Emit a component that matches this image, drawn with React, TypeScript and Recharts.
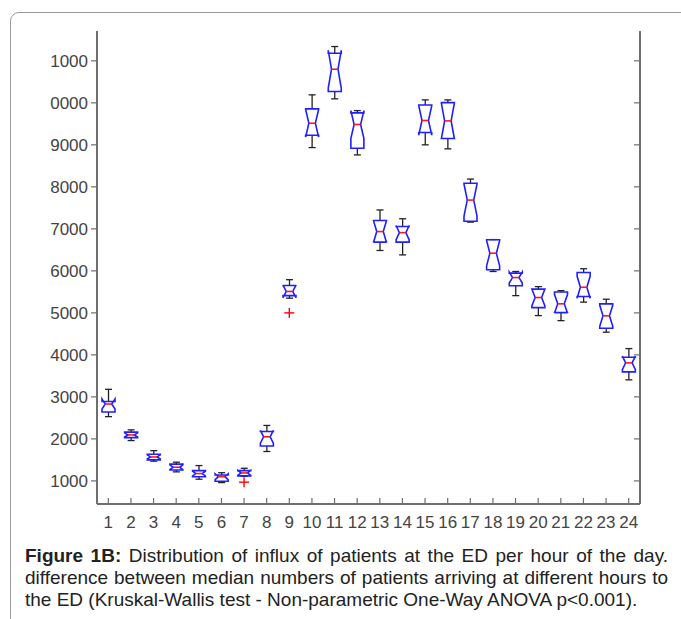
import React from 'react'
import { Bar, ComposedChart, Scatter, XAxis, YAxis } from 'recharts'

// Hour of the day (categories on the x axis)
const hours = [1, 2, 3, 4, 5, 6, 7, 8, 9, 10, 11, 12, 13, 14, 15, 16, 17, 18, 19, 20, 21, 22, 23, 24]

// Box plot statistics per hour
const whiskerLow = [2530, 1960, 1470, 1215, 1040, 960, 1110, 1700, 5350, 8935, 10095, 8760, 6485, 6380, 9000, 8905, 7160, 5985, 5410, 4935, 4815, 5255, 4540, 3405]
const lowerQuartile = [2640, 2030, 1500, 1260, 1100, 990, 1120, 1830, 5410, 9230, 10270, 8920, 6685, 6685, 9295, 9150, 7180, 6025, 5645, 5125, 5005, 5390, 4635, 3595]
const medians = [2830, 2095, 1570, 1325, 1175, 1100, 1190, 2050, 5510, 9515, 10800, 9485, 6935, 6910, 9580, 9570, 7685, 6420, 5840, 5365, 5215, 5610, 4930, 3810]
const upperQuartile = [2890, 2160, 1635, 1400, 1245, 1140, 1245, 2175, 5650, 9855, 11180, 9760, 7200, 7055, 9950, 10005, 8085, 6740, 5945, 5565, 5495, 5960, 5215, 3945]
const whiskerHigh = [3180, 2215, 1720, 1445, 1365, 1195, 1300, 2320, 5790, 10190, 11340, 9815, 7450, 7240, 10070, 10070, 8185, 6745, 5985, 5625, 5530, 6050, 5325, 4150]
// half height of the median notch (comparison interval)
const notchHalf = [120, 50, 50, 55, 60, 70, 60, 150, 150, 330, 450, 330, 260, 170, 350, 420, 380, 300, 130, 200, 220, 260, 250, 160]
const outliers: (number | null)[] = [null, null, null, null, null, null, 970, null, 5000, null, null, null, null, null, null, null, null, null, null, null, null, null, null, null]

const yTicks = [1000, 2000, 3000, 4000, 5000, 6000, 7000, 8000, 9000, 10000, 11000]
const yTickLabels = ['1000', '2000', '3000', '4000', '5000', '6000', '7000', '8000', '9000', '0000', '1000']

const data = hours.map((h, i) => ({
  hour: h,
  range: [whiskerLow[i], whiskerHigh[i]],
  q1: lowerQuartile[i],
  median: medians[i],
  q3: upperQuartile[i],
  notch: notchHalf[i],
  outlier: outliers[i],
}))

const FONT = '"Liberation Sans", Arial, sans-serif'
const AXIS = '#6e6e6e'

// notched box, MATLAB style, positioned from the whisker range bar
const NotchedBox = (props: any) => {
  const { x, y, width, height, payload } = props
  const top = Math.min(y, y + height)
  const bottom = Math.max(y, y + height)
  const [lo, hi] = payload.range
  const py = (v: number) => bottom - ((v - lo) / (hi - lo)) * (bottom - top)
  const cx = x + width / 2
  const hw = width / 2
  const xL = cx - hw
  const xR = cx + hw
  const nL = cx - hw / 2
  const nR = cx + hw / 2
  const yQ1 = py(payload.q1)
  const yQ3 = py(payload.q3)
  const yMed = py(payload.median)
  const yNlo = py(payload.median - payload.notch)
  const yNhi = py(payload.median + payload.notch)
  const pts = [
    [xL, yQ1], [xL, yNlo], [nL, yMed], [xL, yNhi], [xL, yQ3],
    [xR, yQ3], [xR, yNhi], [nR, yMed], [xR, yNlo], [xR, yQ1],
  ]
  return (
    <g>
      <line x1={cx} x2={cx} y1={top} y2={yQ3} stroke='#222' strokeWidth={1.3} />
      <line x1={cx} x2={cx} y1={yQ1} y2={bottom} stroke='#222' strokeWidth={1.3} />
      <line x1={cx - 3.5} x2={cx + 3.5} y1={top} y2={top} stroke='#222' strokeWidth={1.3} />
      <line x1={cx - 3.5} x2={cx + 3.5} y1={bottom} y2={bottom} stroke='#222' strokeWidth={1.3} />
      <polygon points={pts.map((p) => p.join(',')).join(' ')} fill='none' stroke='#1f1fff' strokeWidth={1.6} />
      <line x1={nL} x2={nR} y1={yMed} y2={yMed} stroke='#ff1a1a' strokeWidth={1.6} />
    </g>
  )
}

const Plus = (props: any) => {
  const { cx, cy } = props
  if (cx == null || cy == null) return null
  return (
    <g stroke='#ff0000' strokeWidth={1.4}>
      <line x1={cx - 5} x2={cx + 5} y1={cy} y2={cy} />
      <line x1={cx} x2={cx} y1={cy - 5} y2={cy + 5} />
    </g>
  )
}

const BottomTick = (props: any) => {
  const { x, y, payload } = props
  return (
    <g>
      <line x1={x} x2={x} y1={y - 6} y2={y} stroke={AXIS} strokeWidth={1.2} />
      <text x={x} y={y + 24} textAnchor='middle' fill='#444' fontSize={17} fontFamily={FONT}>
        {payload.value}
      </text>
    </g>
  )
}

const TopTick = (props: any) => {
  const { x, y } = props
  return <rect x={x - 0.75} y={y - 0.5} width={1.5} height={1.5} fill='#aaa' />
}

const RightTick = (props: any) => {
  const { x, y } = props
  return <line x1={x - 6} x2={x} y1={y} y2={y} stroke={AXIS} strokeWidth={1.2} />
}

const App: React.FC = () => {
  return (
    <div style={{ position: 'absolute', left: 0, top: 0, width: 681, height: 619, overflow: 'hidden', background: '#fff' }}>
      <div
        style={{
          position: 'absolute',
          left: 10,
          top: 12,
          width: 720,
          height: 700,
          border: '1px solid #9a9a9a',
          borderRadius: 9,
        }}
      />
      <div style={{ position: 'absolute', left: 0, top: 0 }}>
        <ComposedChart width={681} height={560} data={data} margin={{ top: 31, right: 40, bottom: 16, left: 37 }}>
          <XAxis
            dataKey='hour'
            type='category'
            height={40}
            tickSize={0}
            tickMargin={0}
            tick={<BottomTick />}
            interval={0}
            axisLine={{ stroke: AXIS, strokeWidth: 2 }}
            tickLine={false}
          />
          <XAxis
            xAxisId='top'
            dataKey='hour'
            type='category'
            orientation='top'
            height={0}
            tickSize={0}
            tickMargin={0}
            tick={<TopTick />}
            interval={0}
            axisLine={false}
            tickLine={false}
          />
          <YAxis
            type='number'
            domain={[450, 11710]}
            allowDataOverflow
            ticks={yTicks}
            width={60}
            tickSize={6}
            tickMargin={3}
            tickFormatter={(v: number) => yTickLabels[yTicks.indexOf(v)]}
            tick={{ fill: '#444', fontSize: 17, fontFamily: FONT }}
            axisLine={{ stroke: AXIS, strokeWidth: 2 }}
            tickLine={{ stroke: AXIS, strokeWidth: 1.2 }}
          />
          <YAxis
            yAxisId='right'
            orientation='right'
            type='number'
            domain={[450, 11710]}
            allowDataOverflow
            ticks={yTicks}
            width={1}
            tickSize={0}
            tickMargin={0}
            tick={<RightTick />}
            axisLine={{ stroke: AXIS, strokeWidth: 2 }}
            tickLine={false}
          />
          <Bar dataKey='range' barSize={13} shape={<NotchedBox />} isAnimationActive={false} />
          <Scatter dataKey='outlier' shape={<Plus />} isAnimationActive={false} />
        </ComposedChart>
      </div>
      <div
        style={{
          position: 'absolute',
          left: 25,
          top: 545,
          width: 643,
          fontFamily: '"Liberation Sans Narrow", "Arial Narrow", "Liberation Sans", Arial, sans-serif',
          fontSize: 19,
          lineHeight: '22px',
          color: '#222',
        }}
      >
        <div style={{ textAlign: 'justify', textAlignLast: 'justify', whiteSpace: 'nowrap' }}>
          <b>Figure 1B:</b> Distribution of influx of patients at the ED per hour of the day.
        </div>
        <div style={{ textAlign: 'justify', textAlignLast: 'justify', whiteSpace: 'nowrap' }}>
          difference between median numbers of patients arriving at different hours to
        </div>
        <div style={{ whiteSpace: 'nowrap' }}>
          the ED (Kruskal-Wallis test - Non-parametric One-Way ANOVA p&lt;0.001).
        </div>
      </div>
    </div>
  )
}

export default App
